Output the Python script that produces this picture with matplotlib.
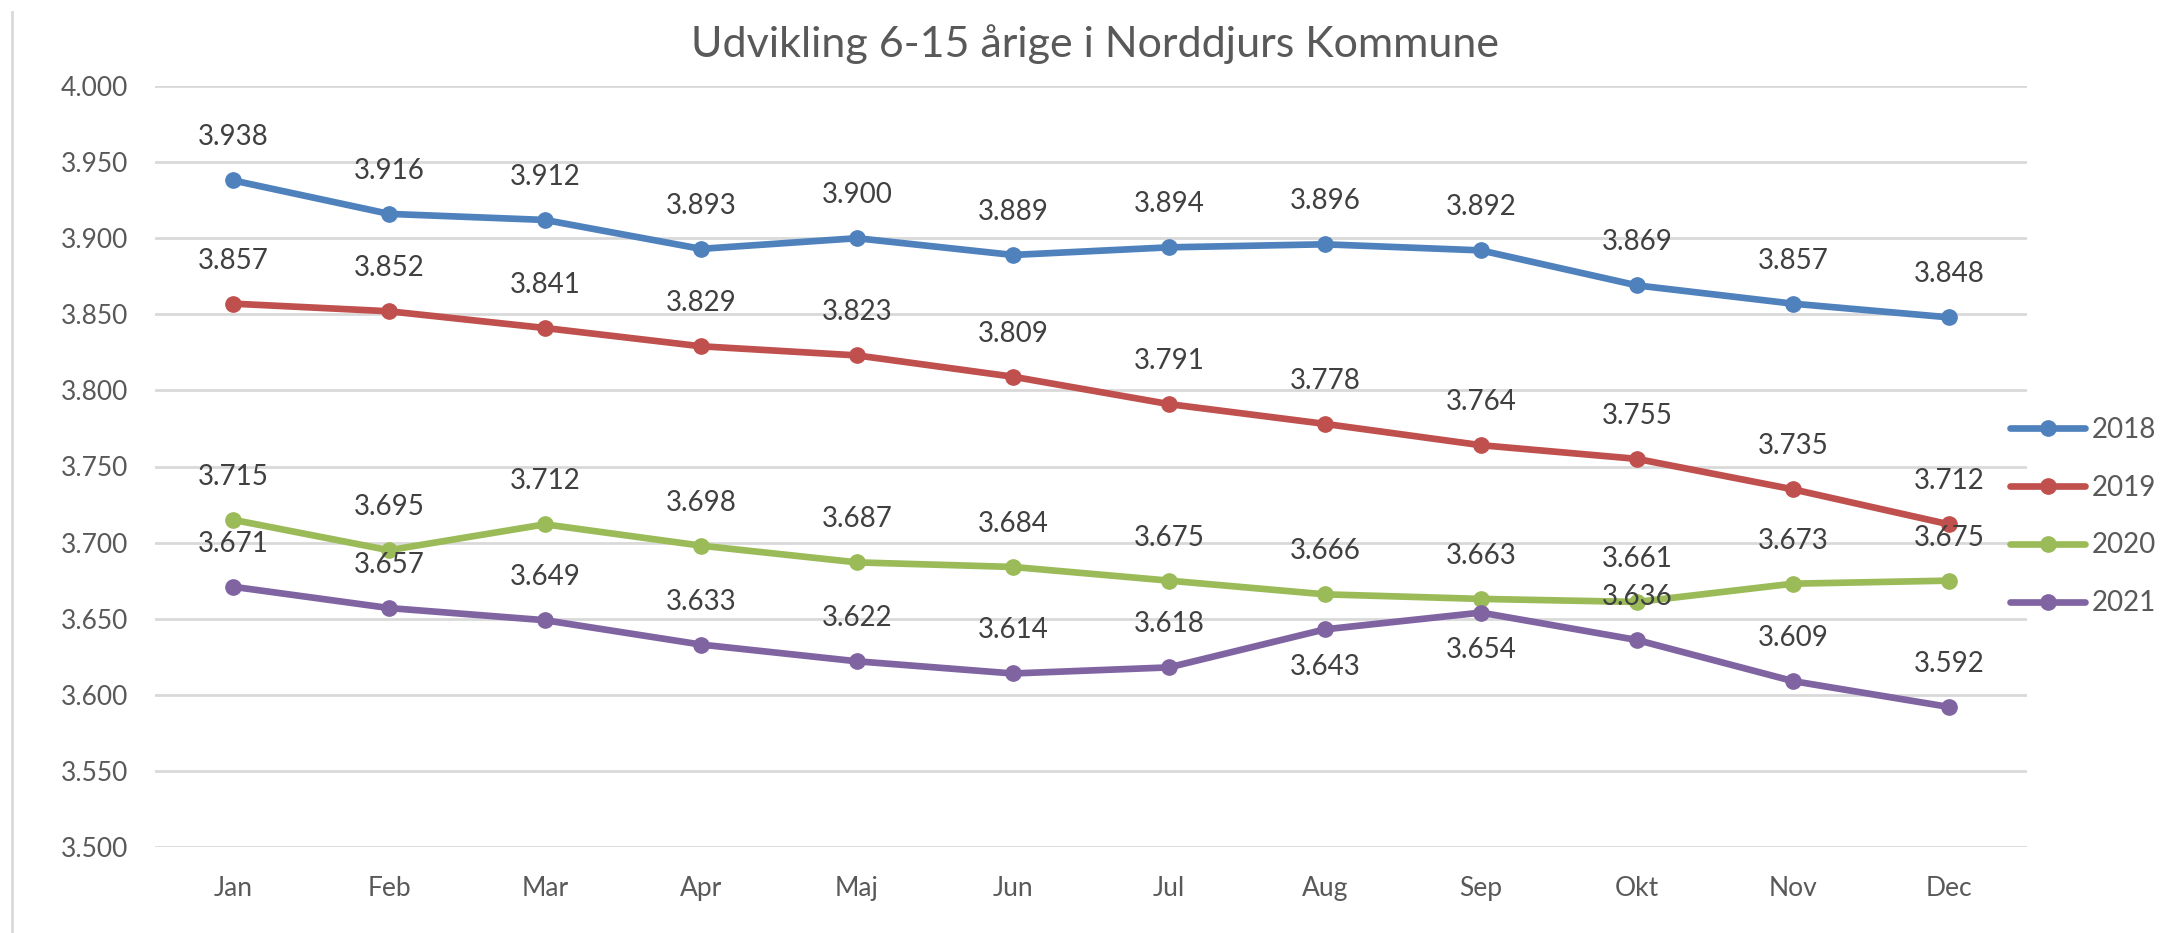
import matplotlib.pyplot as plt
from matplotlib.lines import Line2D

months = ["Jan", "Feb", "Mar", "Apr", "Maj", "Jun", "Jul", "Aug", "Sep", "Okt", "Nov", "Dec"]
years = ["2018", "2019", "2020", "2021"]
v2018 = [3938, 3916, 3912, 3893, 3900, 3889, 3894, 3896, 3892, 3869, 3857, 3848]
v2019 = [3857, 3852, 3841, 3829, 3823, 3809, 3791, 3778, 3764, 3755, 3735, 3712]
v2020 = [3715, 3695, 3712, 3698, 3687, 3684, 3675, 3666, 3663, 3661, 3673, 3675]
v2021 = [3671, 3657, 3649, 3633, 3622, 3614, 3618, 3643, 3654, 3636, 3609, 3592]
yticks = [3500, 3550, 3600, 3650, 3700, 3750, 3800, 3850, 3900, 3950, 4000]

# which labels Excel put under the point (series index, month index)
below = [(3, 7), (3, 8)]

colors = ["#4F81BD", "#C0504D", "#9BBB59", "#8064A2"]
txt = "#595959"

plt.rcParams["font.family"] = ["Lato", "DejaVu Sans"]


def fmt(v):
    return f"{v:,}".replace(",", ".")


fig = plt.figure(figsize=(21.73, 9.33), dpi=100)
ax = fig.add_axes([0.0713, 0.0922, 0.8615, 0.8156])

series = [v2018, v2019, v2020, v2021]
x = list(range(len(months)))
for i, vals in enumerate(series):
    ax.plot(x, vals, color=colors[i], lw=4.8, marker="o", ms=11, label=years[i],
            solid_capstyle="round", zorder=3)
    for j, v in enumerate(vals):
        off = -27 if (i, j) in below else 31
        ax.annotate(fmt(v), (j, v), xytext=(0, off), textcoords="offset points",
                    ha="center", va="center", fontsize=20, color="#404040", zorder=4)

ax.set_xlim(-0.5, 11.5)
ax.set_ylim(3500, 4000)
ax.set_yticks(yticks)
ax.set_yticklabels([fmt(t) for t in yticks])
ax.set_xticks(x)
ax.set_xticklabels(months)
ax.tick_params(axis="both", length=0, labelsize=19, labelcolor=txt)
ax.tick_params(axis="y", pad=19)
ax.tick_params(axis="x", pad=21)
ax.grid(axis="y", color="#D9D9D9", lw=2)
ax.set_axisbelow(True)
for s in ax.spines.values():
    s.set_visible(False)

fig.text(0.504, 0.953, "Udvikling 6-15 årige i Norddjurs Kommune", ha="center", va="center",
         fontsize=31, color=txt)

fig.legend(loc="center left", bbox_to_anchor=(0.925, 0.4464), frameon=False,
           fontsize=20, labelcolor=txt, handlelength=2.7, handletextpad=0.25,
           labelspacing=1.15, borderpad=0, borderaxespad=0)

fig.add_artist(Line2D([0.0055, 0.0055], [0, 0.987], transform=fig.transFigure,
                      color="#D9D9D9", lw=2))

fig.savefig("out.png", dpi=100, facecolor="white")
